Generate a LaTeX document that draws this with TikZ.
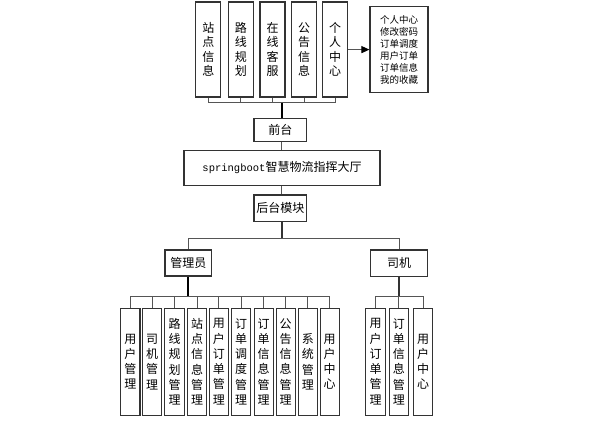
\documentclass[tikz,border=0pt]{standalone}
\usepackage{fontspec}
\setmainfont{Noto Sans CJK SC}
\newfontfamily\latinmono{Liberation Mono}
\usetikzlibrary{arrows.meta}
\definecolor{boxline}{HTML}{333333}
\definecolor{conn}{HTML}{555555}
\tikzset{
  box/.style={draw=boxline, line width=1.1pt, inner sep=0pt, fill=white, font=\fontsize{12}{14}\selectfont},
  vtop/.style={box, minimum width=25pt, minimum height=95pt, align=center, font=\fontsize{12}{14.5}\selectfont},
  vbot/.style={box, minimum width=19.3pt, minimum height=106.7pt, align=center, font=\fontsize{12}{15.3}\selectfont},
  link/.style={draw=conn, line width=1pt},
  trunk/.style={draw=black, line width=2pt},
  midtrunk/.style={draw=black!80, line width=1.5pt},
}
\begin{document}
\begin{tikzpicture}[x=1pt,y=-1pt]
\useasboundingbox (0,0) rectangle (589,421);
% top row
\node[vtop] (t1) at (208.3,49.5) {站\\点\\信\\息};
\node[vtop] (t2) at (240.8,49.5) {路\\线\\规\\划};
\node[vtop] (t3) at (272.5,49.5) {在\\线\\客\\服};
\node[vtop] (t4) at (304.2,49.5) {公\\告\\信\\息};
\node[vtop] (t5) at (335.2,49.5) {个\\人\\中\\心};
\node[box, minimum width=58pt, minimum height=86pt, align=left, font=\fontsize{9.5}{12}\selectfont] (pc) at (399,49.6) {个人中心\\修改密码\\订单调度\\用户订单\\订单信息\\我的收藏};
\draw[link, -{Triangle[length=8pt,width=7pt,color=black]}] (t5.east |- pc.west) -- (pc.west);
% top bracket
\coordinate (topbus) at (281.5,102.7);
\draw[link] (t1.south) -- (t1.south |- topbus) -- (t5.south |- topbus) -- (t5.south);
\foreach \n in {t2,t3,t4} \draw[link] (\n.south) -- (\n.south |- topbus);
% middle
\node[box, minimum width=52.7pt, minimum height=23.4pt] (qt) at (280.3,130) {前台};
\node[box, minimum width=196pt, minimum height=34.3pt] (main) at (282,167.9) {{\latinmono\fontsize{10.5}{12}\selectfont springboot}智慧物流指挥大厅};
\node[box, minimum width=52.7pt, minimum height=26.7pt] (ht) at (280.3,208.3) {后台模块};
\draw[trunk] (topbus) -- (topbus |- qt.north);
\draw[link] (topbus |- qt.south) -- (topbus |- main.north);
\draw[link] (topbus |- main.south) -- (topbus |- ht.north);
% second level
\node[box, minimum width=46.7pt, minimum height=26pt] (gly) at (188.3,263) {管理员};
\node[box, minimum width=56.6pt, minimum height=26.7pt] (sj) at (399,263.3) {司机};
\coordinate (midbus) at (282,238.3);
\draw[midtrunk] (midbus |- ht.south) -- (midbus);
\draw[link] (gly.north) -- (gly.north |- midbus) -- (sj.north |- midbus) -- (sj.north);
% admin children
\node[vbot] (a1) at (130.3,361.7) {用\\户\\管\\理};
\node[vbot] (a2) at (152,361.7) {司\\机\\管\\理};
\node[vbot] (a3) at (174.5,361.7) {路\\线\\规\\划\\管\\理};
\node[vbot] (a4) at (197,361.7) {站\\点\\信\\息\\管\\理};
\node[vbot] (a5) at (218.8,361.7) {用\\户\\订\\单\\管\\理};
\node[vbot] (a6) at (241.2,361.7) {订\\单\\调\\度\\管\\理};
\node[vbot] (a7) at (263.7,361.7) {订\\单\\信\\息\\管\\理};
\node[vbot] (a8) at (285.7,361.7) {公\\告\\信\\息\\管\\理};
\node[vbot] (a9) at (307.8,361.7) {系\\统\\管\\理};
\node[vbot] (a10) at (329.7,361.7) {用\\户\\中\\心};
\coordinate (abus) at (188.3,296.7);
\draw[trunk] (gly.south) -- (abus);
\draw[link] (a1.north) -- (a1.north |- abus) -- (a10.north |- abus) -- (a10.north);
\foreach \n in {a2,a3,a4,a5,a6,a7,a8,a9} \draw[link] (\n.north) -- (\n.north |- abus);
% driver children
\node[vbot] (d1) at (375.5,361.7) {用\\户\\订\\单\\管\\理};
\node[vbot] (d2) at (398.8,361.7) {订\\单\\信\\息\\管\\理};
\node[vbot] (d3) at (423,361.7) {用\\户\\中\\心};
\coordinate (dbus) at (399,296.7);
\draw[midtrunk] (sj.south) -- (dbus);
\draw[link] (d1.north) -- (d1.north |- dbus) -- (d3.north |- dbus) -- (d3.north);
\draw[link] (d2.north) -- (d2.north |- dbus);
\end{tikzpicture}
\end{document}
